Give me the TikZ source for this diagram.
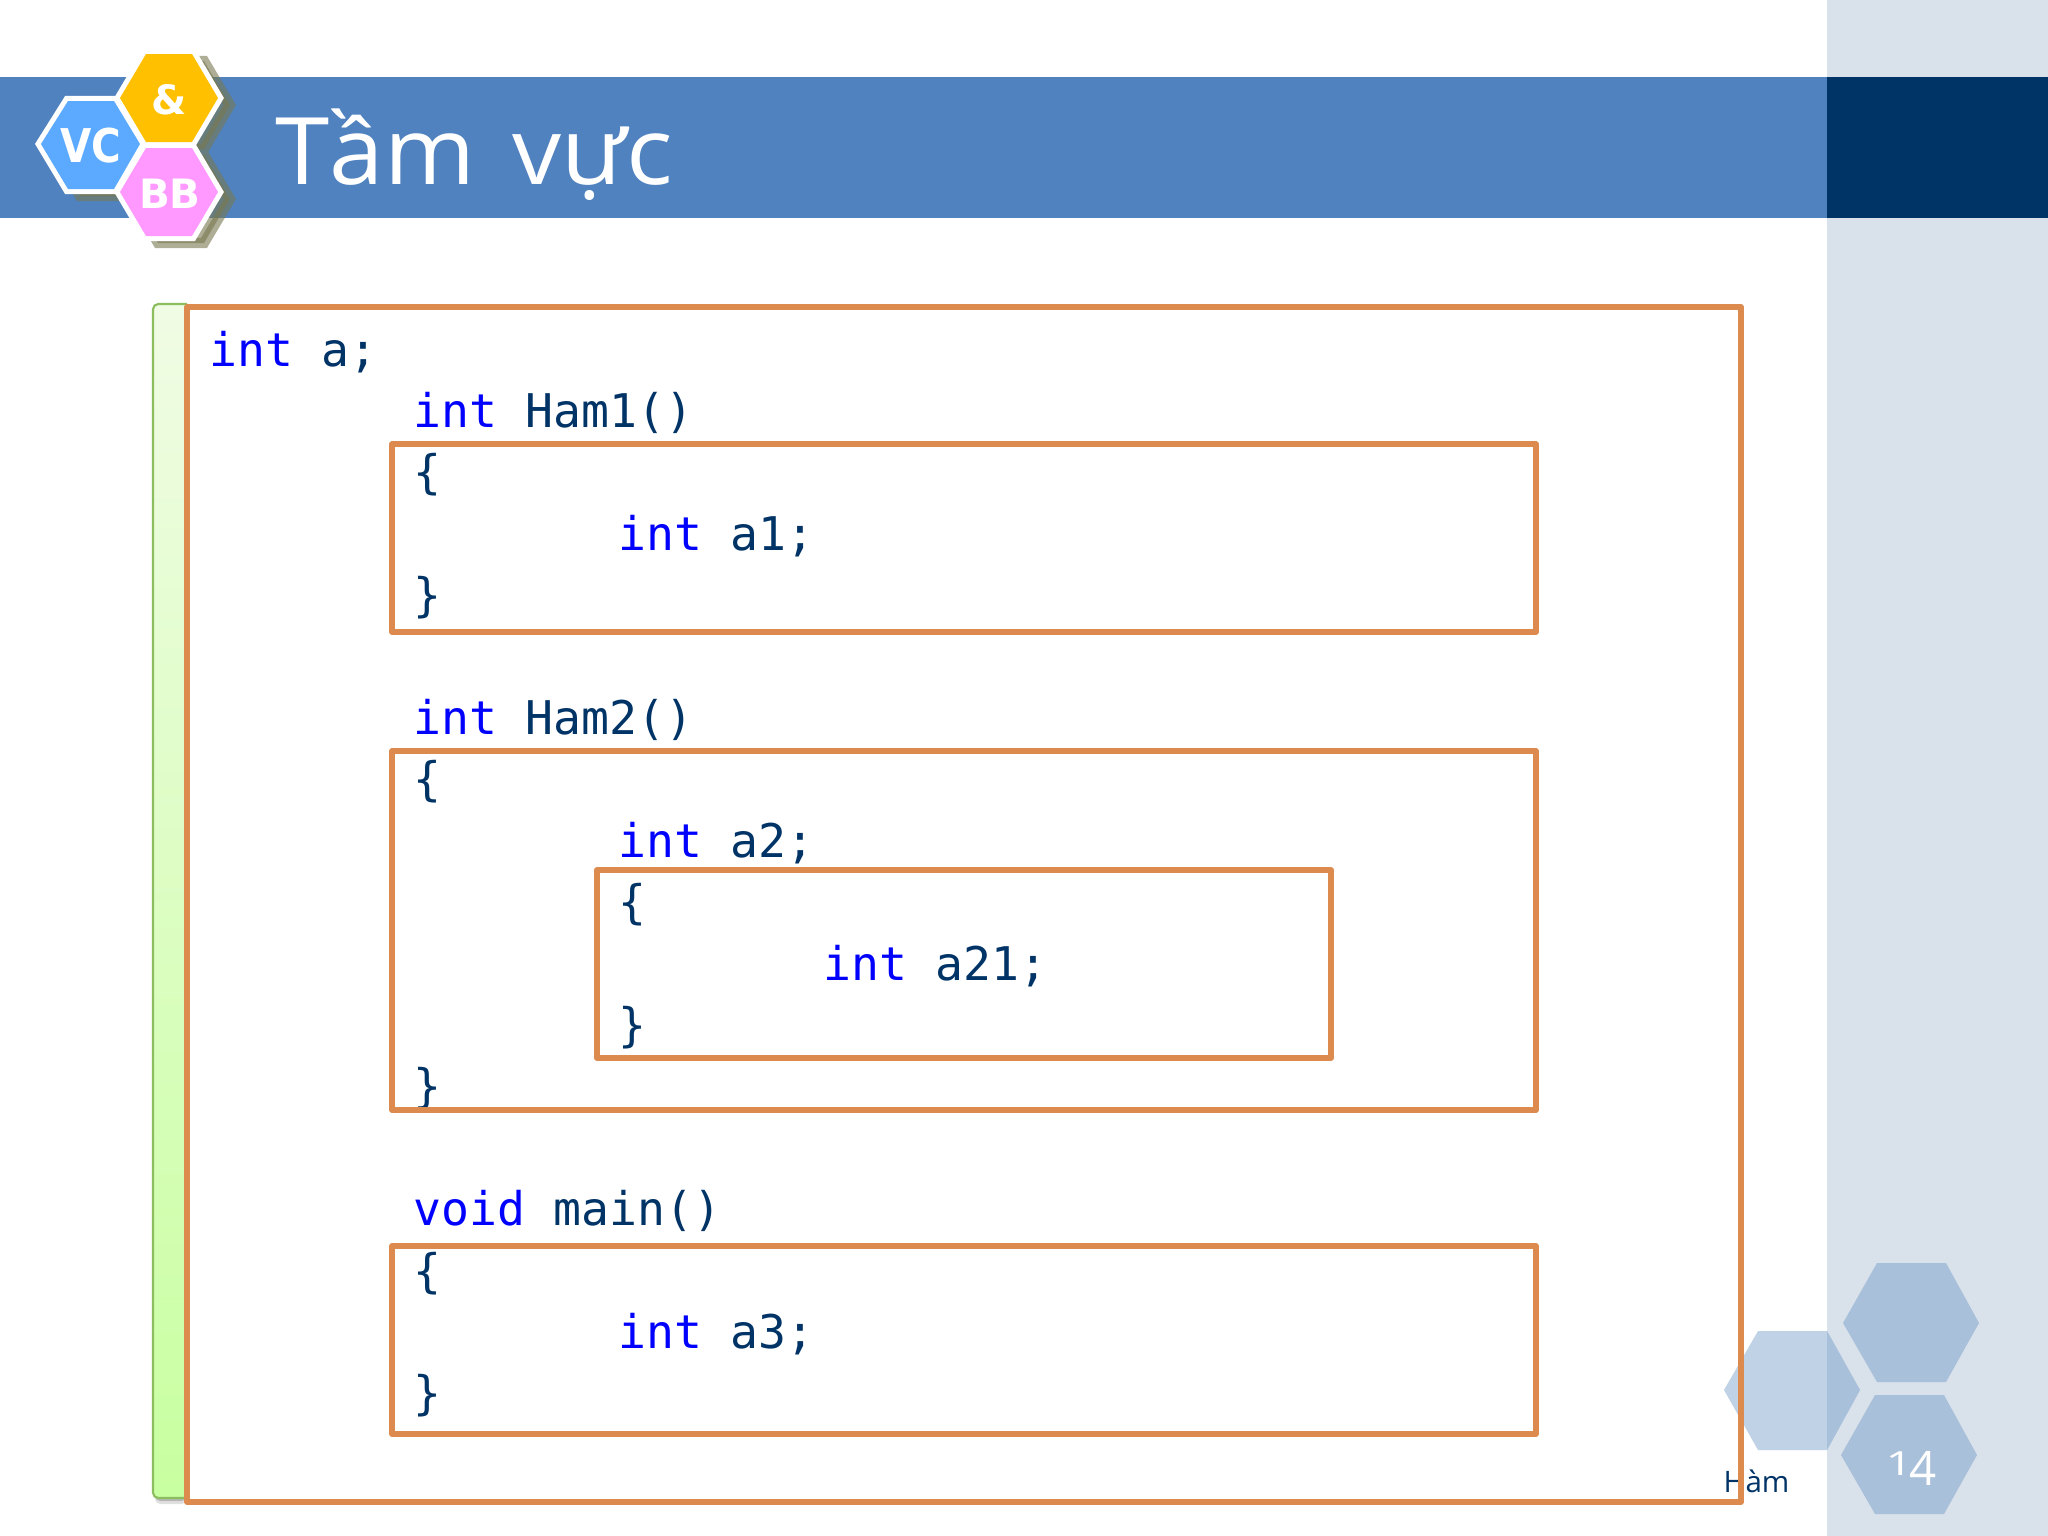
\documentclass[tikz,border=0pt]{standalone}
\usepackage{fontspec}
\setmainfont{Open Sans}
\newfontfamily\codefont{DejaVu Sans Mono}
\newfontfamily\hexfont{DejaVu Sans}
\usetikzlibrary{shadings}

\definecolor{band}{HTML}{4F82BF}
\definecolor{navy}{HTML}{003366}
\definecolor{panel}{HTML}{D9E1EB}
\definecolor{hexdark}{HTML}{A9C0DA}
\definecolor{hexlight}{HTML}{BFD2E6}
\definecolor{boxline}{HTML}{DD8A4F}
\definecolor{hexshadow}{HTML}{787850}

% hexagon path: left, top-left, top-right, right x; top, middle, bottom y
\newcommand{\hexpath}[7]{(#1,#6) -- (#2,#5) -- (#3,#5) -- (#4,#6) -- (#3,#7) -- (#2,#7) -- cycle}

\tikzset{
  code/.style={anchor=base west, inner sep=0pt, text=navy, font=\codefont\fontsize{13.2}{14}\selectfont},
  scope box/.style={draw=boxline, line width=1.45pt, line join=round},
  hex rim/.style={draw=white, line width=2.9pt, line join=miter},
  hex label/.style={inner sep=0pt, text=white, font=\hexfont\bfseries\fontsize{11.5}{12}\selectfont}
}

\begin{document}
\begin{tikzpicture}[x=0.01cm,y=-0.01cm]
  \useasboundingbox (0,0) rectangle (2048,1536);

  % page background
  \fill[white] (0,0) rectangle (2048,1536);
  \fill[panel] (1827,0) rectangle (2048,1536);
  \fill[band] (0,77) rectangle (1827,218);
  \fill[navy] (1827,77) rectangle (2048,218);

  % footer hexagons
  \fill[hexdark] \hexpath{1843}{1877}{1946}{1979}{1263}{1323}{1382};
  \fill[hexdark] \hexpath{1841}{1875}{1944}{1977}{1395}{1455}{1514};
  \fill[hexlight] \hexpath{1724}{1758}{1827}{1860}{1331}{1390}{1450};
  \begin{scope}
    \clip (1827,1300) rectangle (1900,1480);
    \fill[hexdark] \hexpath{1724}{1758}{1827}{1860}{1331}{1390}{1450};
  \end{scope}

  % logo
  \begin{scope}[shift={(12,7)}]
    \filldraw[draw=hexshadow, fill=hexshadow, line width=2.9pt, opacity=.6, transparency group]
      \hexpath{120}{146}{192}{218}{54}{98}{142}
      \hexpath{41}{68}{114}{140}{101}{144}{189}
      \hexpath{120}{146}{192}{218}{148}{192}{236};
  \end{scope}
  \draw[hex rim] \hexpath{41}{68}{114}{140}{101}{144}{189};
  \draw[hex rim] \hexpath{120}{146}{192}{218}{54}{98}{142};
  \draw[hex rim] \hexpath{120}{146}{192}{218}{148}{192}{236};
  \fill[fill={rgb,255:red,91;green,170;blue,255}] \hexpath{41}{68}{114}{140}{101}{144}{189};
  \fill[fill={rgb,255:red,255;green,192;blue,0}] \hexpath{120}{146}{192}{218}{54}{98}{142};
  \fill[fill={rgb,255:red,255;green,153;blue,255}] \hexpath{120}{146}{192}{218}{148}{192}{236};
  \node[hex label, yscale=1.15] (vc) at (91,146) {VC};
  \node[hex label] (amp) at (169,100) {\&};
  \node[hex label] (bb) at (170,194) {BB};

  % title and footer text
  \node[anchor=base west, inner sep=0pt, text=white, xscale=1.05, font=\fontsize{26.5}{30}\selectfont] (title) at (275,184) {Tầm\hspace{10pt}vực};
  \node[anchor=base west, inner sep=0pt, text=navy, font=\fontsize{8.4}{10}\selectfont] (foot) at (1723,1492) {Hàm};
  % old-style figures: short 1, descending 4
  \node[anchor=base west, inner sep=0pt, text=white, font=\fontsize{13.5}{16}\selectfont] (page) at (1885,1475)
    {\scalebox{1}[.7]{1}\kern-1pt\raisebox{-2.85pt}{4}};

  % gutter bar
  \fill[black, opacity=.12, rounded corners=1.5pt] (155,312) rectangle (187,1504);
  \fill[black, opacity=.18, rounded corners=1.5pt] (155,312) rectangle (187,1501);
  \shade[top color={rgb,255:red,240;green,252;blue,228}, bottom color={rgb,255:red,200;green,255;blue,160},
    rounded corners=1.5pt] (153,304) rectangle (187,1498);
  \draw[draw={rgb,255:red,140;green,190;blue,95}, line width=.6pt, rounded corners=1.5pt]
    (187,304) -- (153,304) -- (153,1498) -- (187,1498);

  % code
  \node[code] (l0) at (209,366) {\textcolor{blue}{int} a;};
  \node[code] (l1) at (413,427.4) {\textcolor{blue}{int} Ham1()};
  \node[code] (l2) at (413,488.8) {\{};
  \node[code] (l3) at (618,550.2) {\textcolor{blue}{int} a1;};
  \node[code] (l4) at (413,611.6) {\}};
  \node[code] (l6) at (413,734.4) {\textcolor{blue}{int} Ham2()};
  \node[code] (l7) at (413,795.8) {\{};
  \node[code] (l8) at (618,857.2) {\textcolor{blue}{int} a2;};
  \node[code] (l9) at (618,918.6) {\{};
  \node[code] (l10) at (823,980) {\textcolor{blue}{int} a21;};
  \node[code] (l11) at (618,1041.4) {\}};
  \node[code] (l12) at (413,1102.8) {\}};
  \node[code] (l14) at (413,1225.6) {\textcolor{blue}{void} main()};
  \node[code] (l15) at (413,1287) {\{};
  \node[code] (l16) at (618,1348.4) {\textcolor{blue}{int} a3;};
  \node[code] (l17) at (413,1409.8) {\}};

  % scope boxes
  \draw[scope box] (187,307) rectangle (1741,1502);
  \draw[scope box] (392,444) rectangle (1536,632);
  \draw[scope box] (392,751) rectangle (1536,1110);
  \draw[scope box] (597,870) rectangle (1331,1058);
  \draw[scope box] (392,1246) rectangle (1536,1434);
\end{tikzpicture}
\end{document}
